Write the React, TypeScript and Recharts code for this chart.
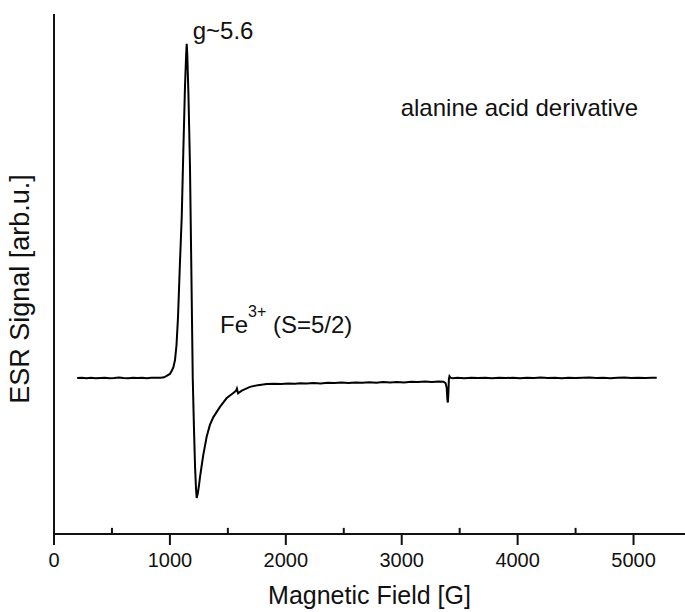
import React from 'react';
import { LineChart, Line, XAxis, YAxis, ReferenceLine, ReferenceDot } from 'recharts';

// Magnetic field (G)
const fieldG = [
  200, 240, 280, 320, 360, 400, 440, 480, 520, 560, 600, 640, 680, 720, 760, 800, 840, 880, 920, 950,
  972, 1000, 1016, 1030, 1044, 1057, 1070, 1086, 1102, 1116, 1130, 1140, 1145, 1150, 1160, 1173, 1185,
  1197, 1208, 1217, 1225, 1231, 1240, 1250, 1260, 1275, 1288, 1317, 1345, 1375, 1432, 1490, 1547, 1570,
  1578, 1588, 1620, 1691, 1760, 1835, 1900, 1960, 2020, 2080, 2122, 2180, 2240, 2300, 2360, 2420, 2480,
  2540, 2600, 2660, 2720, 2780, 2840, 2900, 2960, 3020, 3080, 3140, 3200, 3260, 3320, 3360, 3378, 3388,
  3394, 3398, 3402, 3407, 3412, 3420, 3440, 3480, 3540, 3600, 3660, 3720, 3780, 3840, 3900, 3960, 4020,
  4080, 4140, 4200, 4260, 4320, 4380, 4440, 4500, 4560, 4620, 4680, 4740, 4800, 4860, 4920, 4980, 5040,
  5100, 5160, 5200,
];

// ESR signal (arb. u.)
const signal = [
  0.9, 1.0, 0.8, 0.95, 0.8, 0.9, 1.0, 0.8, 0.9, 1.05, 0.9, 0.8, 0.95, 0.9, 1.0, 0.85, 0.95, 1.0, 1.0, 1.1,
  1.5, 2.1, 3.0, 4.1, 6.2, 10.6, 18.9, 34.2, 48.3, 68.0, 86.5, 95.9, 99.2, 95.9, 84.2, 63.6, 32.7,
  0.9, -14.4, -25.3, -31.5, -34.4, -33.2, -30.9, -28.2, -24.7, -21.7, -16.4, -12.9, -10.6, -7.6, -5.0, -3.5, -2.9,
  -2.2, -3.6, -2.8, -1.7, -1.2, -0.9, -0.8, -0.9, -0.7, -0.8, -0.65, -0.7, -0.55, -0.7, -0.5, -0.6, -0.45,
  -0.6, -0.4, -0.5, -0.35, -0.5, -0.3, -0.4, -0.25, -0.4, -0.2, -0.3, -0.15, -0.3, -0.1, -0.2, -0.6, -2.0,
  -5.5, -6.3, -4.0, 0.6, 1.4, 1.0, 0.8, 0.95, 0.8, 1.0, 0.9, 1.0, 0.85, 1.0, 0.9, 1.0, 0.85,
  1.0, 0.9, 1.05, 0.9, 1.0, 0.85, 1.0, 0.9, 1.0, 1.05, 0.9, 1.0, 0.85, 1.0, 1.05, 0.9, 1.0,
  0.9, 1.0, 1.0,
];

const majorTicks = [0, 1000, 2000, 3000, 4000, 5000];
const minorTicks = [500, 1500, 2500, 3500, 4500];
const xDomain = [0, 5444];
const yDomain = [-45, 108];

const xTitle = 'Magnetic Field [G]';
const yTitle = 'ESR Signal [arb.u.]';
const peakLabel = { x: 1197, y: 100.7, text: 'g~5.6' };
const sampleLabel = { x: 2991, y: 78, text: 'alanine acid derivative' };
const ionLabel = { x: 1432, y: 14.2, base: 'Fe', sup: '3+', rest: ' (S=5/2)' };

const FONT = '"Liberation Sans", Arial, Helvetica, sans-serif';

const data = fieldG.map((f, i) => ({ field: f, signal: signal[i] }));

const YTitle = (props: any) => {
  const vb = props.viewBox || {};
  const cx = vb.x + 20;
  const cy = vb.y + vb.height / 2 + 15;
  return (
    <text
      x={cx}
      y={cy}
      transform={`rotate(-90, ${cx}, ${cy})`}
      textAnchor="middle"
      dominantBaseline="central"
      fontFamily={FONT}
      fontSize={27}
      fill="#111"
    >
      {yTitle}
    </text>
  );
};

export default function App() {
  return (
    <div style={{ position: 'absolute', left: 0, top: 0, background: '#fff' }}>
      <LineChart
        width={685}
        height={612}
        data={data}
        margin={{ top: 14, right: 0, bottom: 0, left: 0 }}
      >
        <XAxis
          dataKey="field"
          type="number"
          domain={xDomain}
          allowDataOverflow
          ticks={majorTicks}
          interval={0}
          height={78}
          tickSize={11}
          tickMargin={8}
          stroke="#111"
          strokeWidth={2}
          tick={{ fontFamily: FONT, fontSize: 20, fill: '#111' }}
          label={{
            value: xTitle,
            position: 'insideBottom',
            offset: 8,
            style: { fontFamily: FONT, fontSize: 25, fill: '#111' },
          }}
        />
        <YAxis
          type="number"
          domain={yDomain}
          allowDataOverflow
          width={54}
          tick={false}
          tickLine={false}
          stroke="#111"
          strokeWidth={2}
          label={{ content: YTitle }}
        />
        {minorTicks.map((t) => (
          <ReferenceLine
            key={t}
            segment={[
              { x: t, y: yDomain[0] },
              { x: t, y: yDomain[0] + 1.8 },
            ]}
            stroke="#111"
            strokeWidth={2}
            ifOverflow="visible"
          />
        ))}
        <Line
          type="linear"
          dataKey="signal"
          stroke="#000"
          strokeWidth={2}
          dot={false}
          isAnimationActive={false}
        />
        <ReferenceDot
          x={peakLabel.x}
          y={peakLabel.y}
          r={0}
          ifOverflow="visible"
          shape={(p: any) => (
            <text x={p.cx} y={p.cy} fontFamily={FONT} fontSize={24} fill="#111">
              {peakLabel.text}
            </text>
          )}
        />
        <ReferenceDot
          x={sampleLabel.x}
          y={sampleLabel.y}
          r={0}
          ifOverflow="visible"
          shape={(p: any) => (
            <text x={p.cx} y={p.cy} fontFamily={FONT} fontSize={24} fill="#111">
              {sampleLabel.text}
            </text>
          )}
        />
        <ReferenceDot
          x={ionLabel.x}
          y={ionLabel.y}
          r={0}
          ifOverflow="visible"
          shape={(p: any) => (
            <text x={p.cx} y={p.cy} fontFamily={FONT} fontSize={24} fill="#111">
              {ionLabel.base}
              <tspan dy={-16} fontSize={16}>{ionLabel.sup}</tspan>
              <tspan dy={16}>{ionLabel.rest}</tspan>
            </text>
          )}
        />
      </LineChart>
    </div>
  );
}
